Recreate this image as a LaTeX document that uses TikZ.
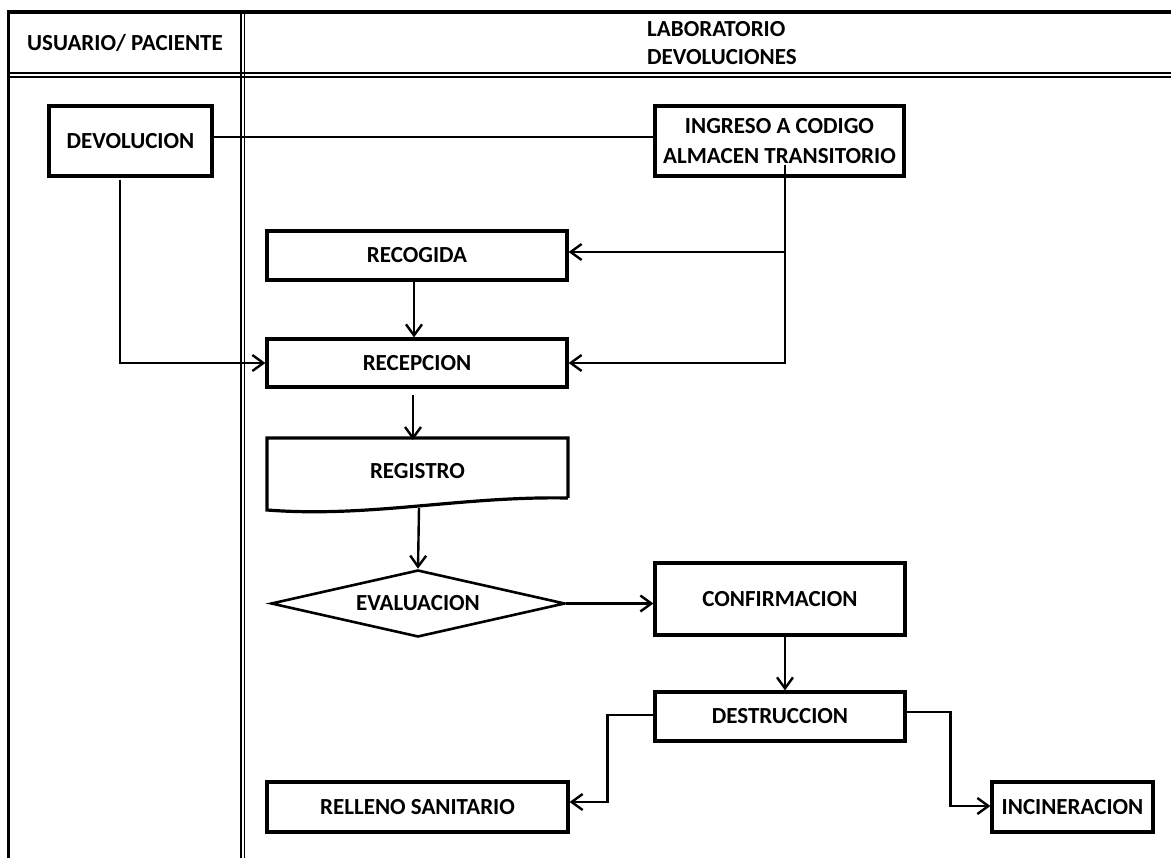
\documentclass[tikz,border=0pt]{standalone}
\usepackage{fontspec}
\setmainfont{Carlito}
\usetikzlibrary{arrows.meta,shapes.geometric,calc}
\tikzset{
  box/.style={draw, line width=3.2pt, inner sep=0pt, align=center,
    font=\fontsize{23}{30}\selectfont\bfseries},
  txt/.style={inner sep=0pt, align=center, font=\fontsize{23}{28}\selectfont\bfseries},
  conn/.style={line width=2.4pt},
  arr/.style={conn, -{Straight Barb[length=11pt,width=16pt,line width=2.4pt]}},
  tline/.style={line width=3.4pt},
  dline/.style={line width=1.9pt}
}
\begin{document}
\begin{tikzpicture}[x=1pt,y=-1pt]
\path[use as bounding box, fill=white] (0,0) rectangle (1171,858);
% table
\draw[tline] (8,12) -- (1171,12);
\draw[dline] (8,73) -- (1171,73);
\draw[dline] (8,77) -- (1171,77);
\draw[line width=3pt] (8,10.3) -- (8,858);
\draw[dline] (241,12) -- (241,858);
\draw[dline] (244.5,12) -- (244.5,858);
\node[txt] (h1) at (125,43) {USUARIO/ PACIENTE};
\node[txt, anchor=west, align=left] (h2) at (647,43) {LABORATORIO\\DEVOLUCIONES};
% nodes
\node[box, minimum width=163pt, minimum height=70pt] (dev) at (130.5,141) {DEVOLUCION};
\node[box, minimum width=249pt, minimum height=70pt] (ing) at (779.5,141) {INGRESO A CODIGO\\ALMACEN TRANSITORIO};
\node[box, minimum width=300pt, minimum height=49pt] (rec) at (417,255.5) {RECOGIDA};
\node[box, minimum width=300pt, minimum height=48pt] (recep) at (417,363) {RECEPCION};
\draw[line width=3.2pt, line join=miter] (568,498) -- (568,438) -- (267,438) -- (267,510)
  .. controls (370,518) and (460,496) .. (568,498);
\node[txt, minimum width=301pt, minimum height=40pt] (reg) at (417.5,471) {REGISTRO};
\coordinate (regb) at (419,508);
\node[box, line width=2.6pt, diamond, aspect=4.4, minimum width=294pt, minimum height=67pt] (eval) at (418,603.5) {\raisebox{-3pt}{EVALUACION}};
\node[box, minimum width=250pt, minimum height=72pt] (conf) at (780,599) {CONFIRMACION};
\node[box, minimum width=250pt, minimum height=49pt] (dest) at (780,716.5) {DESTRUCCION};
\node[box, minimum width=301pt, minimum height=50pt] (rell) at (417.5,807) {RELLENO SANITARIO};
\node[box, minimum width=161pt, minimum height=50pt] (inc) at (1072.5,807) {INCINERACION};
% connectors
\draw[conn] ([yshift=4pt]dev.east) -- ([yshift=4pt]ing.west);
\coordinate (t0) at (785,165);
\coordinate (t1) at (785,252);
\draw[arr] (t0) |- (recep.east);
\draw[arr] (t1) -- (rec.east |- t1);
\draw[arr] ([xshift=-10.5pt,yshift=-2pt]dev.south) |- (recep.west);
\draw[arr] ([xshift=-3pt]rec.south) -- ([xshift=-3pt]recep.north);
\draw[arr] ([xshift=-4pt,yshift=-6pt]recep.south) -- (413,440);
\draw[arr] (regb) -- (eval.north);
\draw[arr] (eval.east) -- (conf.west |- eval.east);
\draw[arr] ([xshift=5pt]conf.south) -- ([xshift=5pt]dest.north);
\draw[arr] ([yshift=1.5pt]dest.west) -- ++(-46,0) |- ([yshift=5pt]rell.east);
\draw[arr] ([yshift=4.5pt]dest.east) -- ++(44,0) |- ([yshift=1pt]inc.west);
\end{tikzpicture}
\end{document}
